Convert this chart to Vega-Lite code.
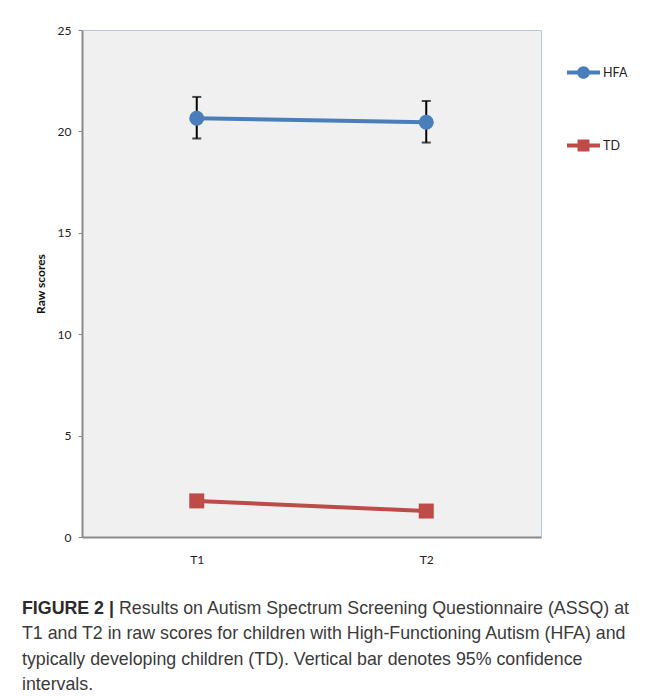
{
  "$schema": "https://vega.github.io/schema/vega-lite/v6.json",
  "background": "white",
  "padding": {"left": 22, "top": 23, "right": 0, "bottom": 0},
  "config": {"view": {"stroke": null}, "font": "Lato"},
  "spacing": 34,
  "vconcat": [
    {
      "width": 459,
      "height": 507,
      "view": {"fill": "#f0f0f0", "stroke": "#b8c9dd", "strokeWidth": 1},
      "data": {
        "values": [
          {"group": "HFA", "time": "T1", "score": 20.65, "lo": 19.65, "hi": 21.7},
          {"group": "HFA", "time": "T2", "score": 20.45, "lo": 19.45, "hi": 21.5},
          {"group": "TD", "time": "T1", "score": 1.78, "lo": null, "hi": null},
          {"group": "TD", "time": "T2", "score": 1.28, "lo": null, "hi": null}
        ]
      },
      "encoding": {
        "x": {
          "field": "time",
          "type": "nominal",
          "title": null,
          "scale": {"type": "point", "padding": 0.5},
          "axis": {
            "labelAngle": 0,
            "ticks": false,
            "domainColor": "#8a8a8a",
            "domainWidth": 2,
            "labelPadding": 17,
            "labelFontSize": 12,
            "labelColor": "#222222",
            "labelFont": "Lato"
          }
        }
      },
      "layer": [
        {
          "transform": [{"filter": "datum.lo != null"}],
          "mark": {"type": "errorbar", "color": "black", "thickness": 2, "size": 9, "ticks": true},
          "encoding": {
            "y": {"field": "lo", "type": "quantitative", "title": "Raw scores", "scale": {"domain": [0, 25], "nice": false}},
            "y2": {"field": "hi"}
          }
        },
        {
          "mark": {"type": "line", "strokeWidth": 4},
          "encoding": {
            "y": {"field": "score", "type": "quantitative", "title": "Raw scores"},
            "color": {"field": "group", "type": "nominal", "scale": {"domain": ["HFA", "TD"], "range": ["#4a7ebb", "#be4b48"]}}
          }
        },
        {
          "transform": [{"filter": "datum.group === 'HFA'"}],
          "mark": {"type": "point", "shape": "circle", "filled": true, "size": 225, "opacity": 1},
          "encoding": {
            "y": {"field": "score", "type": "quantitative", "title": "Raw scores"},
            "color": {"field": "group", "type": "nominal"}
          }
        },
        {
          "transform": [{"filter": "datum.group === 'TD'"}],
          "mark": {"type": "point", "shape": "square", "filled": true, "size": 225, "opacity": 1},
          "encoding": {
            "y": {"field": "score", "type": "quantitative", "title": "Raw scores"},
            "color": {"field": "group", "type": "nominal"}
          }
        },
        {
          "transform": [{"filter": "false"}],
          "mark": {"type": "point", "filled": true, "size": 1089, "opacity": 1},
          "encoding": {
            "y": {
              "field": "score",
              "type": "quantitative",
              "title": "Raw scores",
              "axis": {
                "values": [0, 5, 10, 15, 20, 25],
                "grid": false,
                "tickColor": "#8a8a8a",
                "tickSize": 4,
                "tickWidth": 1,
                "domainColor": "#8a8a8a",
                "domainWidth": 2,
                "labelPadding": 7,
                "labelFontSize": 12,
                "labelColor": "#222222",
                "labelFont": "Lato",
                "titleFont": "Lato",
                "titleFontSize": 12,
                "titleFontWeight": "bold",
                "titleColor": "#111111",
                "titlePadding": 10
              }
            },
            "color": {
              "field": "group",
              "type": "nominal",
              "legend": {
                "orient": "none",
                "legendX": 485,
                "legendY": 26,
                "title": null,
                "padding": 0,
                "symbolSize": 1089,
                "symbolStrokeWidth": 0,
                "rowPadding": 50,
                "labelOffset": 3,
                "labelFontSize": 12.5,
                "labelFont": "Lato",
                "labelColor": "#222222"
              }
            },
            "shape": {
              "field": "group",
              "type": "nominal",
              "scale": {
                "domain": ["HFA", "TD"],
                "range": [
                  "M-1,-0.12H1V0.12H-1Z M-0.38,0A0.38,0.38 0 1,1 0.38,0A0.38,0.38 0 1,1 -0.38,0Z",
                  "M-1,-0.12H1V0.12H-1Z M-0.36,-0.36H0.36V0.36H-0.36Z"
                ]
              },
              "legend": {
                "orient": "none",
                "legendX": 485,
                "legendY": 26,
                "title": null,
                "padding": 0,
                "symbolSize": 1089,
                "symbolStrokeWidth": 0,
                "rowPadding": 50,
                "labelOffset": 3,
                "labelFontSize": 12.5,
                "labelFont": "Lato",
                "labelColor": "#222222"
              }
            }
          }
        }
      ]
    },
    {
      "width": 459,
      "height": 76,
      "view": {"stroke": null},
      "data": {
        "values": [
          {"line": 1, "text": "Results on Autism Spectrum Screening Questionnaire (ASSQ) at", "label": "FIGURE 2 |"},
          {"line": 2, "text": "T1 and T2 in raw scores for children with High-Functioning Autism (HFA) and", "label": null},
          {"line": 3, "text": "typically developing children (TD). Vertical bar denotes 95% confidence", "label": null},
          {"line": 4, "text": "intervals.", "label": null}
        ]
      },
      "encoding": {
        "y": {"field": "line", "type": "ordinal", "scale": {"type": "point", "padding": 0}, "axis": null},
        "x": {"value": 0}
      },
      "layer": [
        {
          "transform": [{"filter": "datum.label != null"}],
          "mark": {"type": "text", "align": "left", "baseline": "middle", "dx": -60, "font": "Liberation Sans", "fontSize": 17.8, "fontWeight": "bold", "color": "#2b2b2b"},
          "encoding": {"text": {"field": "label"}}
        },
        {
          "transform": [{"filter": "datum.label != null"}],
          "mark": {"type": "text", "align": "left", "baseline": "middle", "dx": 37, "font": "Liberation Sans", "fontSize": 17.8, "color": "#3a3a3a"},
          "encoding": {"text": {"field": "text"}}
        },
        {
          "transform": [{"filter": "datum.label == null"}],
          "mark": {"type": "text", "align": "left", "baseline": "middle", "dx": -60, "font": "Liberation Sans", "fontSize": 17.8, "color": "#3a3a3a"},
          "encoding": {"text": {"field": "text"}}
        }
      ]
    }
  ]
}
